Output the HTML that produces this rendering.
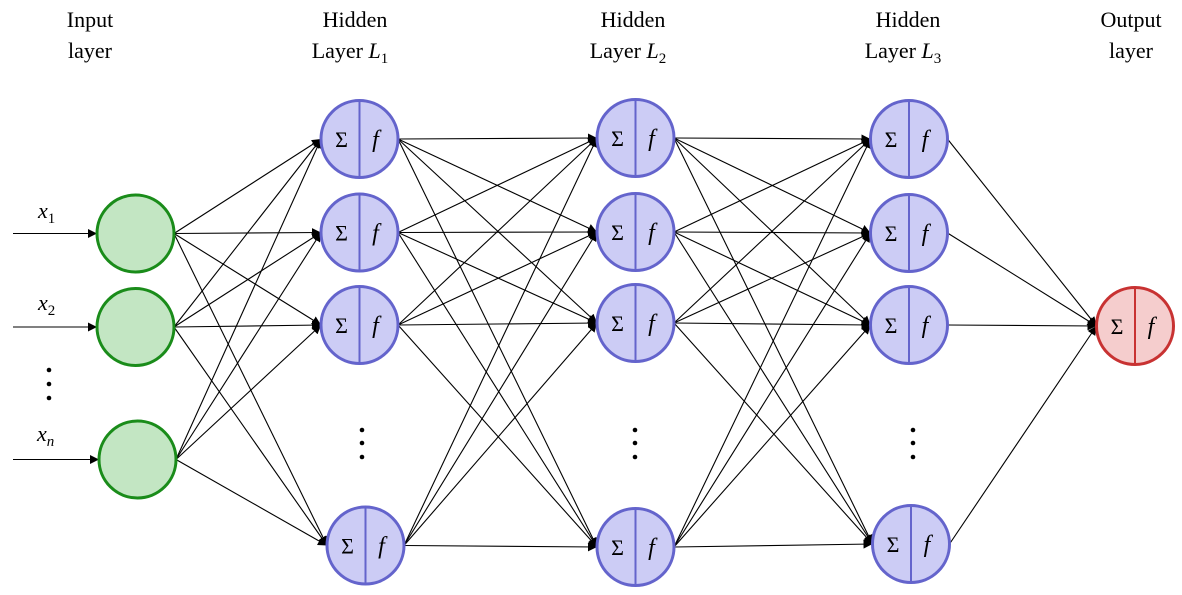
<!DOCTYPE html>
<html><head><meta charset="utf-8"><style>
html,body{margin:0;padding:0;background:#fff;}
svg{display:block;}
text{font-family:"Liberation Serif",serif;fill:#000;}
</style></head><body>
<svg width="1182" height="595" viewBox="0 0 1182 595" xmlns="http://www.w3.org/2000/svg">
<defs>
<marker id="a" viewBox="0 0 10 10" refX="10" refY="5" markerWidth="9" markerHeight="9" markerUnits="userSpaceOnUse" orient="auto"><path d="M0,0 L10,5 L0,10 z" fill="#000"/></marker>
</defs>
<g font-size="22" text-anchor="middle">
<text x="90" y="27">Input</text><text x="90" y="58">layer</text>
<text x="355" y="27">Hidden</text><text x="350" y="58">Layer <tspan font-style="italic">L</tspan><tspan font-size="15" dy="5">1</tspan></text>
<text x="633" y="27">Hidden</text><text x="628" y="58">Layer <tspan font-style="italic">L</tspan><tspan font-size="15" dy="5">2</tspan></text>
<text x="908" y="27">Hidden</text><text x="903" y="58">Layer <tspan font-style="italic">L</tspan><tspan font-size="15" dy="5">3</tspan></text>
<text x="1131" y="27">Output</text><text x="1131" y="58">layer</text>
</g>
<g font-size="22" font-style="italic">
<text x="38" y="218">x<tspan font-style="normal" font-size="15" dy="5">1</tspan></text>
<text x="38" y="310">x<tspan font-style="normal" font-size="15" dy="5">2</tspan></text>
<text x="37" y="441">x<tspan font-size="15" dy="5">n</tspan></text>
</g>
<g stroke="#000" stroke-width="1.1" marker-end="url(#a)" id="edges"></g>
<g fill="#000">
<circle cx="49" cy="370" r="2.3"/><circle cx="49" cy="384" r="2.3"/><circle cx="49" cy="398" r="2.3"/>
<circle cx="362" cy="430" r="2.3"/><circle cx="362" cy="443" r="2.3"/><circle cx="362" cy="457" r="2.3"/>
<circle cx="635" cy="430" r="2.3"/><circle cx="635" cy="443" r="2.3"/><circle cx="635" cy="457" r="2.3"/>
<circle cx="913" cy="430" r="2.3"/><circle cx="913" cy="443" r="2.3"/><circle cx="913" cy="457" r="2.3"/>
</g>
<g id="nodes"></g>
</svg>
<script>
var R=38.5;
var inp=[[135.5,233.5],[135.5,327],[137.5,459.5]];
var L1=[[359.5,139],[359.5,232.5],[359.5,325],[365.5,545.5]];
var L2=[[635.5,138],[635.5,232],[635.5,323],[635.5,547]];
var L3=[[909,139],[909,233],[909,325],[911,544]];
var out=[[1135,326]];
var NS="http://www.w3.org/2000/svg";
var eg=document.getElementById('edges'),ng=document.getElementById('nodes');
function line(x1,y1,x2,y2){var l=document.createElementNS(NS,'line');l.setAttribute('x1',x1);l.setAttribute('y1',y1);l.setAttribute('x2',x2);l.setAttribute('y2',y2);eg.appendChild(l);}
inp.forEach(function(p){line(13,p[1],p[0]-R,p[1]);});
function conn(A,B){A.forEach(function(a){B.forEach(function(b){line(a[0]+R,a[1],b[0]-R,b[1]);});});}
conn(inp,L1);conn(L1,L2);conn(L2,L3);conn(L3,out);
function node(p,fill,stroke,split){
 var c=document.createElementNS(NS,'circle');c.setAttribute('cx',p[0]);c.setAttribute('cy',p[1]);c.setAttribute('r',R);c.setAttribute('fill',fill);c.setAttribute('stroke',stroke);c.setAttribute('stroke-width','3');ng.appendChild(c);
 if(split){
  var l=document.createElementNS(NS,'line');l.setAttribute('x1',p[0]);l.setAttribute('x2',p[0]);l.setAttribute('y1',p[1]-R);l.setAttribute('y2',p[1]+R);l.setAttribute('stroke',stroke);l.setAttribute('stroke-width','2');ng.appendChild(l);
  var t=document.createElementNS(NS,'text');t.setAttribute('x',p[0]-18);t.setAttribute('y',p[1]+8);t.setAttribute('text-anchor','middle');t.setAttribute('font-size','22');t.textContent='Σ';ng.appendChild(t);
  var f=document.createElementNS(NS,'text');f.setAttribute('x',p[0]+16);f.setAttribute('y',p[1]+8);f.setAttribute('text-anchor','middle');f.setAttribute('font-size','24');f.setAttribute('font-style','italic');f.textContent='f';ng.appendChild(f);
 }
}
inp.forEach(function(p){node(p,'#c3e6c3','#1a8c1a',false);});
[L1,L2,L3].forEach(function(L){L.forEach(function(p){node(p,'#ccccf5','#6464cc',true);});});
node(out[0],'#f5cdcd','#c83232',true);
</script>
</body></html>
